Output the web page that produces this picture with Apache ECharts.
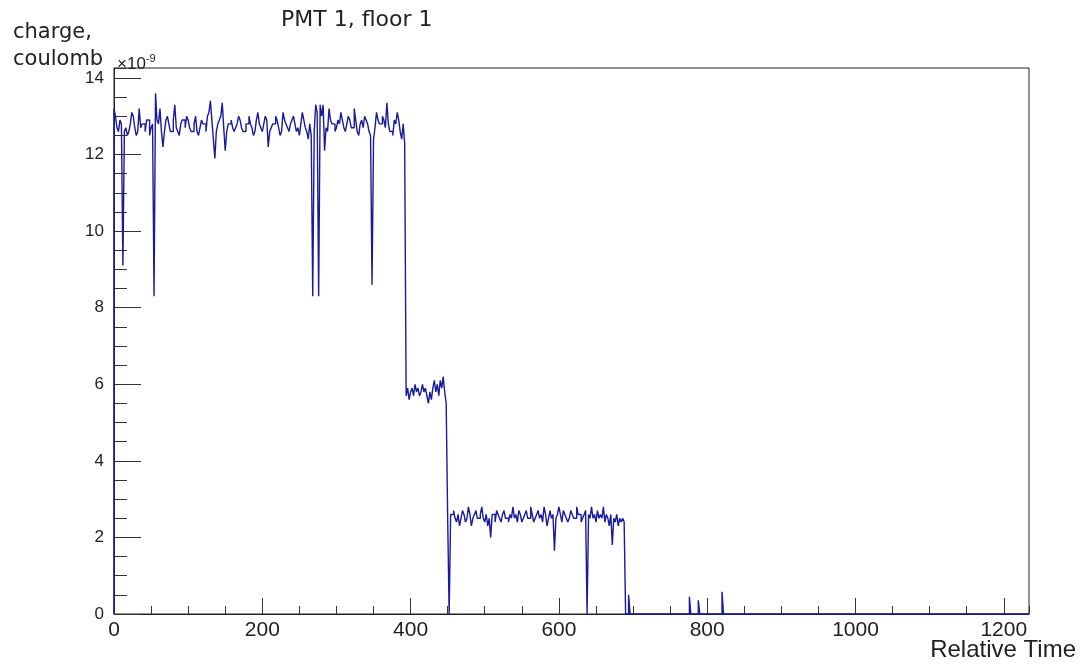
<!DOCTYPE html>
<html>
<head>
<meta charset="utf-8">
<script src="https://cdn.jsdelivr.net/npm/echarts@6/dist/echarts.min.js"></script>
<style>
html,body{margin:0;padding:0;background:#fff;}
#chart{width:1091px;height:664px;}
</style>
</head>
<body>
<div id="chart"></div>
<script>
// ---- data (charge in units of 1e-9 C), histogram bins of width 2 starting at t=0 ----
const titleText = 'PMT 1, floor 1';
const yAxisTitle = 'charge,\ncoulomb';
const xAxisTitle = 'Relative Time';
const binWidth = 2;
const xTickLabels = [0, 200, 400, 600, 800, 1000, 1200];
const yTickLabels = [0, 2, 4, 6, 8, 10, 12, 14];

// t = 0 .. 392
const stage1 = [
  13.2, 13.0, 12.7, 12.6, 12.9, 12.8, 9.1, 12.6, 12.7, 12.5,
  12.6, 12.8, 13.1, 13.0, 12.7, 12.5, 12.6, 13.2, 12.7, 12.8,
  12.8, 12.6, 12.9, 12.9, 12.5, 12.7, 12.8, 8.3, 13.6, 12.9,
  12.8, 13.2, 12.6, 12.2, 12.6, 12.9, 13.0, 12.8, 12.6, 12.6,
  12.9, 13.3, 12.7, 12.6, 12.5, 12.8, 12.9, 12.9, 12.7, 13.0,
  12.9, 12.7, 12.6, 12.6, 12.8, 13.0, 12.6, 12.5, 12.7, 12.9,
  12.8, 12.8, 12.6, 13.0, 13.1, 13.4, 12.9, 12.4, 11.9, 12.6,
  12.8, 12.9, 13.0, 13.35, 12.7, 12.1, 12.6, 12.8, 12.8, 12.9,
  12.7, 12.6, 12.7, 12.8, 13.0, 12.9, 12.7, 12.6, 12.6, 12.8,
  12.8, 13.0, 12.8, 12.7, 12.5, 12.6, 12.9, 13.1, 12.8, 12.7,
  12.6, 12.8, 13.0, 12.9, 12.2, 12.6, 12.7, 12.8, 12.8, 13.0,
  12.9, 12.7, 12.5, 12.6, 13.1, 12.9, 12.8, 12.7, 12.6, 12.8,
  12.9, 13.0, 12.8, 12.6, 12.7, 12.5, 12.8, 13.1, 12.9, 12.7,
  12.6, 12.4, 12.8, 12.5, 8.3, 12.6, 13.3, 13.1, 8.3, 13.3,
  13.0, 13.3, 12.1, 12.7, 12.6, 13.2, 12.9, 12.8, 12.8, 12.6,
  12.7, 12.9, 12.8, 13.1, 12.9, 12.7, 12.6, 12.8, 13.0, 12.9,
  12.7, 12.7, 13.2, 12.9, 12.6, 12.5, 12.8, 12.9, 12.7, 13.0,
  12.9, 12.8, 12.6, 12.5, 8.6, 12.4, 12.7, 13.1, 12.9, 12.8,
  12.8, 13.0, 12.9, 12.7, 13.35, 12.8, 12.6, 12.6, 12.5, 12.9,
  12.8, 13.1, 12.9, 12.6, 12.4, 12.8, 12.3
];
// t = 394 .. 448
const stage2 = [
  5.7, 5.9, 5.6, 5.8, 5.9, 5.7, 6.0, 5.8, 5.9, 5.7,
  5.8, 6.0, 5.8, 5.9, 5.7, 5.5, 5.8, 5.6, 5.9, 6.1,
  5.8, 6.0, 5.7, 6.1, 5.9, 6.2, 5.8, 5.5
];
// t = 450 .. 688
const stage3 = [
  2.5, 0,
  2.6, 2.6, 2.7, 2.5, 2.4, 2.6, 2.3, 2.5, 2.7, 2.6,
  2.4, 2.5, 2.8, 2.6, 2.3, 2.5, 2.6, 2.7, 2.5, 2.5,
  2.6, 2.8, 2.5, 2.4, 2.6, 2.3, 2.5, 2.0, 2.6, 2.6,
  2.4, 2.7, 2.6, 2.5, 2.4, 2.6, 2.7, 2.5, 2.5, 2.4,
  2.6, 2.5, 2.8, 2.5, 2.6, 2.4, 2.7, 2.6, 2.4, 2.5,
  2.6, 2.7, 2.5, 2.5, 2.8, 2.6, 2.4, 2.5, 2.6, 2.7,
  2.5, 2.6, 2.4, 2.8, 2.6, 2.3, 2.5, 2.7, 2.5, 2.6,
  1.65, 2.5, 2.6, 2.8, 2.6, 2.4, 2.7, 2.6, 2.5, 2.4,
  2.5, 2.7, 2.6, 2.5, 2.5, 2.8, 2.6, 2.6, 2.4, 2.5,
  2.6, 2.7, 0, 2.6, 2.5, 2.8, 2.5, 2.6, 2.4, 2.7,
  2.5, 2.6, 2.5, 2.8, 2.4, 2.6, 2.5, 2.3, 2.6, 1.8,
  2.5, 2.4, 2.6, 2.3, 2.5, 2.4, 2.5, 2.4
];
// isolated small bins after the last plateau
const spikeTimes = [694, 776, 788, 820];
const spikeValues = [0.5, 0.45, 0.36, 0.58];
const xMax = 1234;
const yMax = 14.26;

// ---- build histogram outline ----
const bins = stage1.concat(stage2, stage3);
const points = [[0, 0]];
bins.forEach((v, i) => points.push([i * binWidth, v]));
const plateauEnd = bins.length * binWidth;
points.push([plateauEnd, 0]);
spikeTimes.forEach((t, i) => {
  points.push([t, spikeValues[i]]);
  points.push([t + binWidth, 0]);
});
points.push([xMax, 0]);

const FONT = 'Liberation Sans';
const chart = echarts.init(document.getElementById('chart'), null, {renderer: 'canvas'});
chart.setOption({
  animation: false,
  backgroundColor: '#fff',
  title: [
    {text: titleText, left: 276, top: 4,
     textStyle: {fontFamily: 'DejaVu Sans', fontSize: 22, fontWeight: 'normal', color: '#222'}},
    {text: yAxisTitle, left: 8, top: 14,
     textStyle: {fontFamily: 'DejaVu Sans', fontSize: 21, fontWeight: 'normal', color: '#222', lineHeight: 27}},
    {text: '{a|×10}{b|-9}', left: 112, top: 48,
     textStyle: {fontWeight: 'normal', rich: {
       a: {fontFamily: FONT, fontSize: 17, fontWeight: 'normal', color: '#222', verticalAlign: 'bottom', lineHeight: 20},
       b: {fontFamily: FONT, fontSize: 11, fontWeight: 'normal', color: '#222', verticalAlign: 'top', lineHeight: 20, padding: [0, 0, 8, 0]}
     }}},
    {text: xAxisTitle, right: 10, top: 633,
     textStyle: {fontFamily: FONT, fontSize: 24, fontWeight: 'normal', color: '#222'}}
  ],
  grid: {left: 114, right: 62, top: 68, bottom: 50, show: true, borderColor: '#222', borderWidth: 1,
         containLabel: false, outerBoundsMode: 'none'},
  xAxis: [
    {type: 'value', min: 0, max: xMax, interval: 200, position: 'bottom',
     axisLine: {show: true, onZero: false, lineStyle: {color: '#222', width: 1}},
     axisTick: {show: true, inside: true, length: 16, lineStyle: {color: '#333'}},
     axisLabel: {show: true, margin: 6, fontFamily: FONT, fontSize: 21, color: '#222', showMaxLabel: false,
       formatter: v => (xTickLabels.indexOf(v) >= 0 ? String(v) : '')},
     splitLine: {show: false}},
    {type: 'value', min: 0, max: xMax, interval: 50, position: 'bottom', gridIndex: 0,
     axisLine: {show: false}, axisLabel: {show: false}, splitLine: {show: false},
     axisTick: {show: true, inside: true, length: 8, lineStyle: {color: '#333'}}}
  ],
  yAxis: [
    {type: 'value', min: 0, max: yMax, interval: 2, position: 'left',
     axisLine: {show: true, onZero: false, lineStyle: {color: '#222', width: 1}},
     axisTick: {show: true, inside: true, length: 27, lineStyle: {color: '#333'}},
     axisLabel: {show: true, margin: 10, fontFamily: FONT, fontSize: 17, color: '#222', showMaxLabel: false,
       formatter: v => (yTickLabels.indexOf(v) >= 0 ? String(v) : '')},
     splitLine: {show: false}},
    {type: 'value', min: 0, max: yMax, interval: 0.5, position: 'left', gridIndex: 0,
     axisLine: {show: false}, axisLabel: {show: false}, splitLine: {show: false},
     axisTick: {show: true, inside: true, length: 13, lineStyle: {color: '#333'}}}
  ],
  series: [{
    type: 'line', step: 'end', data: points, showSymbol: false, symbol: 'none',
    xAxisIndex: 0, yAxisIndex: 0, clip: true,
    lineStyle: {color: '#1a1a9c', width: 1.4}
  }]
});
</script>
</body>
</html>
